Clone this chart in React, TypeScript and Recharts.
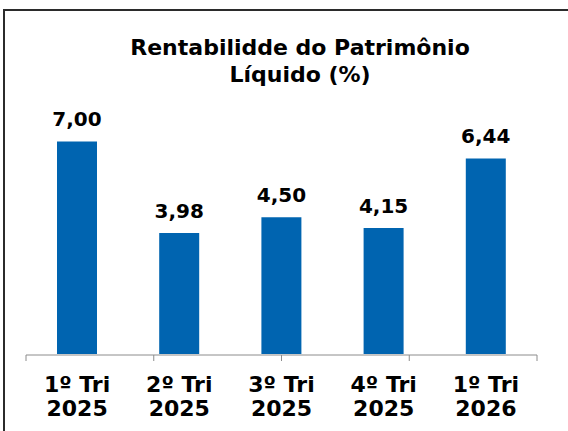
import { BarChart, Bar, XAxis, YAxis, LabelList } from 'recharts'

const quarters = ['1º Tri', '2º Tri', '3º Tri', '4º Tri', '1º Tri']
const years = ['2025', '2025', '2025', '2025', '2026']
const roe = [7.0, 3.98, 4.5, 4.15, 6.44]
const edgeTicks = [0, 1, 2, 3, 4, 5]

const data = quarters.map((q, i) => ({ name: `${q}|${years[i]}`, value: roe[i] }))

const font = '"DejaVu Sans", Verdana, sans-serif'

function QuarterTick(props: any) {
  const { x, y, payload } = props
  const [q, yr] = String(payload.value).split('|')
  return (
    <text x={x} y={y} textAnchor="middle" fontFamily={font} fontSize={22} fontWeight="bold" fill="#000">
      <tspan x={x} dy={30}>{q}</tspan>
      <tspan x={x} dy={24}>{yr}</tspan>
    </text>
  )
}

export default function App() {
  return (
    <div style={{ position: 'absolute', left: 0, top: 0, width: 568, height: 431, background: '#fff', overflow: 'hidden' }}>
      <div
        style={{
          position: 'absolute',
          left: 3,
          top: 9,
          width: 600,
          height: 500,
          borderTop: '2px solid #2b2b2b',
          borderLeft: '2px solid #2b2b2b',
        }}
      />
      <div
        style={{
          position: 'absolute',
          left: 0,
          top: 34,
          width: 600,
          textAlign: 'center',
          fontFamily: font,
          fontWeight: 'bold',
          fontSize: 22,
          lineHeight: '27px',
          color: '#000',
        }}
      >
        Rentabilidde do Patrimônio
        <br />
        Líquido (%)
      </div>
      <div style={{ position: 'absolute', left: 0, top: 0 }}>
        <BarChart width={568} height={431} data={data} margin={{ top: 111, right: 31, left: 26, bottom: 5 }} barSize={40}>
          <YAxis hide domain={[0, 8]} />
          <XAxis dataKey="name" axisLine={false} tickLine={false} tick={<QuarterTick />} interval={0} height={1} />
          <XAxis
            xAxisId="edges"
            type="number"
            domain={[0, 5]}
            ticks={edgeTicks}
            tickFormatter={() => ''}
            interval={0}
            height={71}
            stroke="#8c8c8c"
            tickLine={{ stroke: '#8c8c8c' }}
            tickSize={6}
            allowDataOverflow
          />
          <Bar dataKey="value" fill="#0064b0" isAnimationActive={false}>
            <LabelList
              dataKey="value"
              position="top"
              offset={15}
              formatter={(v: number) => v.toFixed(2).replace('.', ',')}
              style={{ fontFamily: font, fontSize: 20, fontWeight: 'bold', fill: '#000' }}
            />
          </Bar>
        </BarChart>
      </div>
    </div>
  )
}
